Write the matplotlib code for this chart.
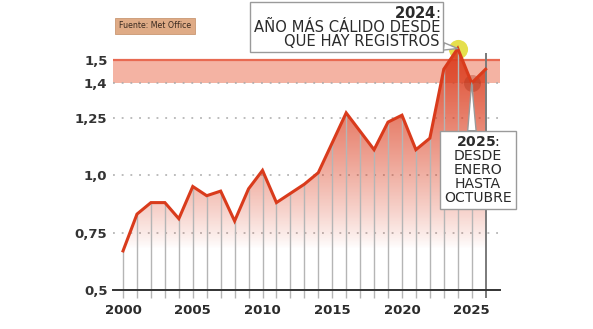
import numpy as np
import matplotlib.pyplot as plt

plt.rcParams['font.family'] = ['DejaVu Sans']
plt.rcParams['mathtext.fontset'] = 'custom'
plt.rcParams['mathtext.rm'] = 'DejaVu Sans'
plt.rcParams['mathtext.bf'] = 'DejaVu Sans:bold'

# anomalia de temperatura global (C) - Met Office; ultimo punto = tramo final 2025
years = [2000, 2001, 2002, 2003, 2004, 2005, 2006, 2007, 2008, 2009,
         2010, 2011, 2012, 2013, 2014, 2015, 2016, 2017, 2018, 2019,
         2020, 2021, 2022, 2023, 2024, 2025, 2026]
anom = [0.67, 0.83, 0.88, 0.88, 0.81, 0.95, 0.91, 0.93, 0.80, 0.94,
        1.02, 0.88, 0.92, 0.96, 1.01, 1.14, 1.27, 1.19, 1.11, 1.23,
        1.26, 1.11, 1.16, 1.46, 1.55, 1.40, 1.46]

yticks = [0.5, 0.75, 1.0, 1.25, 1.4, 1.5]
ylabels = ['0,5', '0,75', '1,0', '1,25', '1,4', '1,5']
xticks = [2000, 2005, 2010, 2015, 2020, 2025]
band = (1.4, 1.5)

red = '#d93b1c'
ink = '#2b2b2b'

W, H = 593, 329
fig = plt.figure(figsize=(W / 100, H / 100), dpi=100)
ax = fig.add_axes([113 / W, (H - 290) / H, (500 - 113) / W, (290 - 10) / H])

x = np.array(years, dtype=float)
y = np.array(anom)
x0, x1 = 1999.28, 2027.03
y0, y1 = 0.5, 1.7174

# banda 1,4 - 1,5
ax.axhspan(band[0], band[1], color='#f4b3a3', lw=0, zorder=0)
ax.axhline(band[1], color='#e86a52', lw=1.6, zorder=1)

# lineas guia punteadas
for v in [0.75, 1.0, 1.25, 1.4]:
    ax.axhline(v, color='#a9a9a9', lw=1.1, ls=(0, (1.2, 4.5)), zorder=1)

# relleno con degradado
poly = ax.fill_between(x, y0, y, facecolor='none', lw=0, zorder=3)
g = np.linspace(0, 1, 256)
alpha = np.clip((g * (1.6 - y0) + y0 - 0.68) / (1.5 - 0.68), 0, 1) ** 0.85 * 0.9
grad = np.zeros((256, 1, 4))
grad[..., 0], grad[..., 1], grad[..., 2] = 0.86, 0.24, 0.12
grad[:, 0, 3] = alpha
im = ax.imshow(grad, extent=[x0, x1, y0, 1.6], origin='lower',
               aspect='auto', zorder=3, interpolation='bilinear')
im.set_clip_path(poly.get_paths()[0], transform=ax.transData)

# circulo amarillo (2024) por debajo del relleno
i24 = years.index(2024)
i25 = years.index(2025)
ax.scatter([x[i24]], [y[i24]], s=190, color='#e3dc3a', alpha=0.9,
           lw=0, zorder=2)

# lineas verticales de cada anio
ax.vlines(x[:-1], y0 - 0.035, y[:-1], color='#b5b5b5', lw=1.0,
          zorder=4, clip_on=False)
ax.vlines(x[-1], y0 - 0.035, 1.53, color='#7a7a7a', lw=1.4,
          zorder=4, clip_on=False)

ax.plot(x, y, color=red, lw=2.2, zorder=6, solid_joinstyle='miter')
ax.scatter([x[i25]], [y[i25]], s=150, color='#a83018', alpha=0.35,
           lw=0, zorder=5)

ax.set_xlim(x0, x1)
ax.set_ylim(y0, y1)
for s in ['top', 'right', 'left']:
    ax.spines[s].set_visible(False)
ax.spines['bottom'].set_color('#333333')
ax.spines['bottom'].set_linewidth(1.4)
ax.spines['bottom'].set_zorder(7)

ax.set_yticks(yticks, ylabels)
ax.set_xticks(xticks, [str(t) for t in xticks])
ax.tick_params(axis='y', length=0, pad=4, labelsize=9.5, labelcolor='#333333')
ax.tick_params(axis='x', length=0, pad=10, labelsize=9.5, labelcolor=ink)
for lab in ax.get_yticklabels() + ax.get_xticklabels():
    lab.set_fontweight('semibold')

box = dict(boxstyle='square,pad=0.3', fc='white', ec='#9a9a9a', lw=1.0)
box24 = dict(boxstyle='square,pad=0.22', fc='white', ec='#9a9a9a', lw=1.0)

ax.annotate('$\\mathbf{2024}$:\nAÑO MÁS CÁLIDO DESDE\nQUE HAY REGISTROS',
            xy=(x[i24], y[i24]), xycoords='data',
            xytext=(440, 302), textcoords='figure pixels',
            ha='right', va='center', multialignment='right',
            fontsize=10.6, color=ink, linespacing=0.88, bbox=box24, zorder=9,
            arrowprops=dict(arrowstyle='wedge,tail_width=0.5', fc='white',
                            ec='#9a9a9a', lw=1.0, relpos=(0.97, 0.08),
                            shrinkA=0, shrinkB=0),
            annotation_clip=False)

ax.annotate('$\\mathbf{2025}$:\nDESDE\nENERO\nHASTA\nOCTUBRE',
            xy=(x[i25], y[i25]), xycoords='data',
            xytext=(478, 159), textcoords='figure pixels',
            ha='center', va='center', multialignment='center',
            fontsize=10.1, color=ink, linespacing=0.98, bbox=box, zorder=9,
            arrowprops=dict(arrowstyle='wedge,tail_width=0.6', fc='white',
                            ec='#9a9a9a', lw=1.0, relpos=(0.41, 1.0),
                            shrinkA=0, shrinkB=0),
            annotation_clip=False)

fig.text(155, 303, 'Fuente: Met Office', transform=None, ha='center',
         va='center', fontsize=5.7, color='#3a2a20',
         bbox=dict(boxstyle='square,pad=0.5', fc='#dfab86', ec='#c99873', lw=0.6))

plt.savefig('out.png', dpi=100)
